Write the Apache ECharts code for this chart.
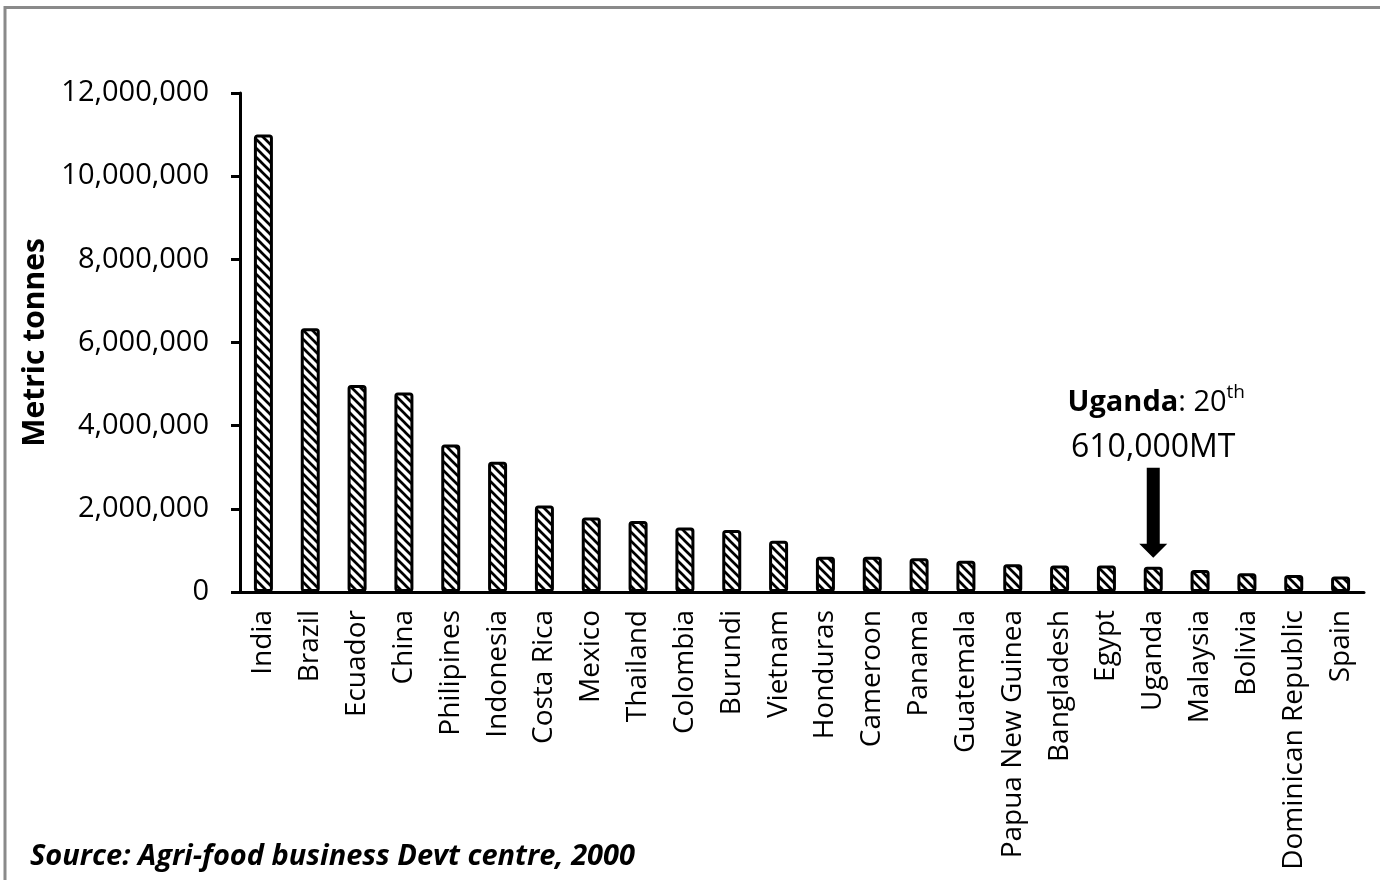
<!DOCTYPE html>
<html>
<head>
<meta charset="utf-8">
<script src="https://cdn.jsdelivr.net/npm/echarts@6/dist/echarts.min.js"></script>
<style>
  html, body { margin: 0; padding: 0; background: #fff; }
  #chart { width: 1380px; height: 880px; }
</style>
</head>
<body>
<div id="chart"></div>
<script>
// Banana production by country, metric tonnes
const countries = [
  'India', 'Brazil', 'Ecuador', 'China', 'Philipines', 'Indonesia', 'Costa Rica',
  'Mexico', 'Thailand', 'Colombia', 'Burundi', 'Vietnam', 'Honduras', 'Cameroon',
  'Panama', 'Guatemala', 'Papua New Guinea', 'Bangladesh', 'Egypt', 'Uganda',
  'Malaysia', 'Bolivia', 'Dominican Republic', 'Spain'
];
const production = [
  11000000, 6340000, 4980000, 4800000, 3550000, 3130000, 2080000,
  1790000, 1710000, 1550000, 1490000, 1230000, 850000, 850000,
  810000, 750000, 670000, 640000, 640000, 610000,
  530000, 450000, 410000, 370000
];
const yTicks = [0, 2000000, 4000000, 6000000, 8000000, 10000000, 12000000];
const highlightCountry = 'Uganda';
const highlightRank = '20';
const highlightLabel = '610,000MT';
const sourceNote = 'Source: Agri-food business Devt centre, 2000';

const FONT = '"Open Sans", "Liberation Sans", sans-serif';

// Diagonal hatch fill ("\" direction)
function makeHatch() {
  const s = 9;
  const c = document.createElement('canvas');
  c.width = s; c.height = s;
  const g = c.getContext('2d');
  g.fillStyle = '#fff';
  g.fillRect(0, 0, s, s);
  g.strokeStyle = '#000';
  g.lineWidth = 2.7;
  g.beginPath();
  g.moveTo(-2, -2); g.lineTo(s + 2, s + 2);
  g.moveTo(-2, s - 2); g.lineTo(2, s + 2);
  g.moveTo(s - 2, -2); g.lineTo(s + 2, 2);
  g.stroke();
  return c;
}

const chart = echarts.init(document.getElementById('chart'), null, { renderer: 'canvas' });

chart.setOption({
  animation: false,
  backgroundColor: '#fff',
  grid: { left: 240, right: 16, top: 93, bottom: 288, containLabel: false },
  xAxis: {
    type: 'category',
    data: countries,
    axisLine: { lineStyle: { color: '#000', width: 3 } },
    axisTick: { show: false },
    axisLabel: {
      rotate: 90, interval: 0, margin: 18,
      color: '#000', fontFamily: FONT, fontSize: 28
    }
  },
  yAxis: {
    type: 'value',
    min: yTicks[0], max: yTicks[yTicks.length - 1],
    interval: yTicks[1] - yTicks[0],
    name: 'Metric tonnes',
    nameLocation: 'middle',
    nameGap: 177,
    nameTextStyle: { color: '#000', fontFamily: FONT, fontSize: 30, fontWeight: 'bold' },
    splitLine: { show: false },
    axisLine: { show: true, lineStyle: { color: '#000', width: 3 } },
    axisTick: { show: true, length: 9, inside: false, lineStyle: { color: '#000', width: 3 } },
    axisLabel: {
      margin: 31, color: '#000', fontFamily: FONT, fontSize: 29,
      formatter: v => v.toLocaleString('en-US')
    }
  },
  series: [{
    type: 'bar',
    data: production,
    barWidth: 19,
    itemStyle: {
      color: { image: makeHatch(), repeat: 'repeat' },
      borderColor: '#000',
      borderWidth: 3,
      borderRadius: 2
    }
  }]
});

// Annotation arrow and text anchored on the highlighted bar
const hlIndex = countries.indexOf(highlightCountry);
const barTop = chart.convertToPixel({ xAxisIndex: 0, yAxisIndex: 0 }, [hlIndex, production[hlIndex]]);
const ax = barTop[0];
const tipY = barTop[1] - 9;

chart.setOption({
  graphic: [
    {
      type: 'rect',
      shape: { x: 5, y: 7.5, width: 1400, height: 900 },
      style: { fill: null, stroke: '#8a8a8a', lineWidth: 3 },
      silent: true
    },
    {
      type: 'polygon',
      shape: {
        points: [
          [ax - 6.5, tipY - 90], [ax + 6.5, tipY - 90], [ax + 6.5, tipY - 14],
          [ax + 14, tipY - 14], [ax, tipY], [ax - 14, tipY - 14], [ax - 6.5, tipY - 14]
        ]
      },
      style: { fill: '#000' }
    },
    {
      type: 'text',
      x: ax + 3, y: tipY - 155,
      style: {
        text: '{b|' + highlightCountry + '}{r|: ' + highlightRank + '}{s|th}',
        align: 'center', verticalAlign: 'middle',
        rich: {
          b: { fontFamily: FONT, fontSize: 29, fontWeight: 'bold', fill: '#000', lineHeight: 40 },
          r: { fontFamily: FONT, fontSize: 29, fill: '#000', lineHeight: 40 },
          s: { fontFamily: FONT, fontSize: 19, fill: '#000', lineHeight: 40, verticalAlign: 'top' }
        }
      }
    },
    {
      type: 'text',
      x: ax, y: tipY - 110,
      style: {
        text: highlightLabel,
        align: 'center', verticalAlign: 'middle',
        fontFamily: FONT, fontSize: 32, fill: '#000'
      }
    },
    {
      type: 'text',
      left: 30, top: 842,
      style: {
        text: sourceNote,
        fontFamily: FONT, fontSize: 29, fontWeight: 'bold', fontStyle: 'italic', fill: '#000'
      }
    }
  ]
});
</script>
</body>
</html>
